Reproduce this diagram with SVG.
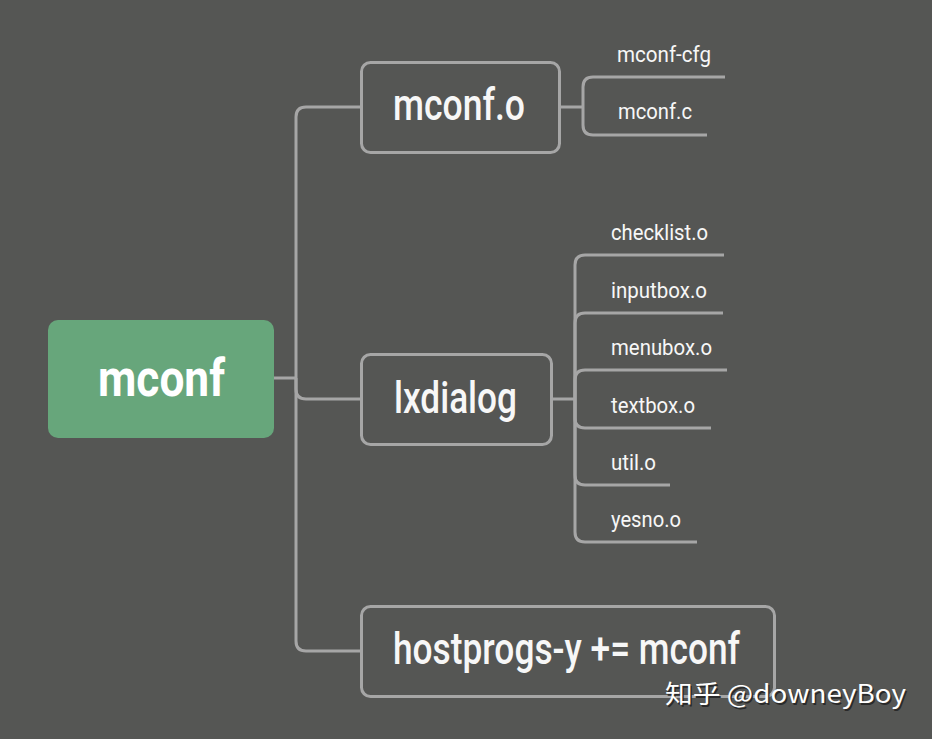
<svg xmlns="http://www.w3.org/2000/svg" width="932" height="739" viewBox="0 0 932 739">
<style>
.bg{fill:#555654}
.box{fill:#555654;stroke:#a6a6a6;stroke-width:3}
.ln{fill:none;stroke:#a6a6a6;stroke-width:3;stroke-linecap:butt}
.t{font-family:Roboto,"Liberation Sans",sans-serif;fill:#f7f7f7}
.big{font-size:44px;font-weight:500}
.sm{font-size:22px}
.root{font-family:Roboto,"Liberation Sans",sans-serif;font-weight:bold;font-size:52px;fill:#ffffff}
.wm{font-family:"Noto Sans CJK SC","Noto Sans",sans-serif;font-size:25px}
</style>
<rect class="bg" x="0" y="0" width="932" height="739"/>
<g id="connectors">
<path class="ln" d="M274,378 H296"/>
<path class="ln" d="M296,378 V117 Q296,107 306,107 H360"/>
<path class="ln" d="M296,378 V389 Q296,399 306,399 H360"/>
<path class="ln" d="M296,378 V641 Q296,651 306,651 H360"/>
<path class="ln" d="M560,107 H583"/>
<path class="ln" d="M583,107 V87 Q583,77 593,77 H725"/>
<path class="ln" d="M583,107 V125 Q583,135 593,135 H707"/>
<path class="ln" d="M553,399 H575"/>
<path class="ln" d="M575,399 V265 Q575,255 585,255 H724"/>
<path class="ln" d="M575,399 V323 Q575,313 585,313 H723"/>
<path class="ln" d="M575,399 V380 Q575,370 585,370 H727"/>
<path class="ln" d="M575,399 V418 Q575,428 585,428 H711"/>
<path class="ln" d="M575,399 V475 Q575,485 585,485 H670"/>
<path class="ln" d="M575,399 V532 Q575,542 585,542 H697"/>
</g>
<g id="mconf">
<rect x="48" y="320" width="226" height="118" rx="10" fill="#67a67b"/>
<text class="root" x="98" y="396" textLength="127" lengthAdjust="spacingAndGlyphs">mconf</text>
</g>
<g id="mconf-o">
<rect class="box" x="361.5" y="62.5" width="198" height="90" rx="9"/>
<text class="t big" x="393" y="120" textLength="132" lengthAdjust="spacingAndGlyphs">mconf.o</text>
</g>
<g id="lxdialog">
<rect class="box" x="361.5" y="354.5" width="190" height="90" rx="9"/>
<text class="t big" x="394" y="413" textLength="123" lengthAdjust="spacingAndGlyphs">lxdialog</text>
</g>
<g id="hostprogs">
<rect class="box" x="361.5" y="606.5" width="413" height="90" rx="9"/>
<text class="t big" x="393" y="664" textLength="347" lengthAdjust="spacingAndGlyphs">hostprogs-y += mconf</text>
</g>
<g id="mconf-cfg"><text class="t sm" x="617" y="62" textLength="94" lengthAdjust="spacingAndGlyphs">mconf-cfg</text></g>
<g id="mconf-c"><text class="t sm" x="618" y="119" textLength="74" lengthAdjust="spacingAndGlyphs">mconf.c</text></g>
<g id="checklist"><text class="t sm" x="611" y="240" textLength="97" lengthAdjust="spacingAndGlyphs">checklist.o</text></g>
<g id="inputbox"><text class="t sm" x="611" y="298" textLength="96" lengthAdjust="spacingAndGlyphs">inputbox.o</text></g>
<g id="menubox"><text class="t sm" x="611" y="355" textLength="101" lengthAdjust="spacingAndGlyphs">menubox.o</text></g>
<g id="textbox"><text class="t sm" x="611" y="413" textLength="84" lengthAdjust="spacingAndGlyphs">textbox.o</text></g>
<g id="util"><text class="t sm" x="611" y="470" textLength="45" lengthAdjust="spacingAndGlyphs">util.o</text></g>
<g id="yesno"><text class="t sm" x="611" y="527" textLength="70" lengthAdjust="spacingAndGlyphs">yesno.o</text></g>
<g id="watermark">
<text class="wm" x="666.5" y="704.5" fill="#2a2a2a" textLength="241" lengthAdjust="spacingAndGlyphs">知乎 @downeyBoy</text>
<text class="wm" x="665" y="703" fill="#ffffff" textLength="241" lengthAdjust="spacingAndGlyphs">知乎 @downeyBoy</text>
</g>
</svg>
